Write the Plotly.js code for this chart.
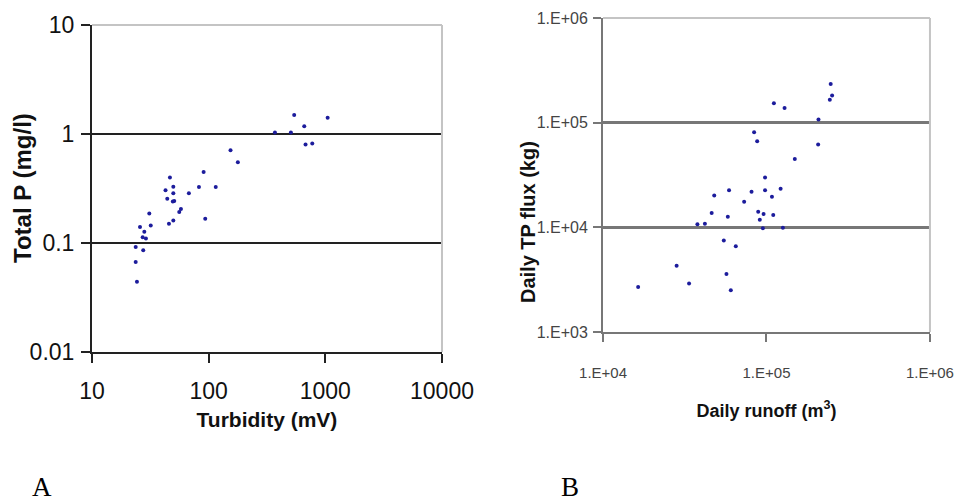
<!DOCTYPE html>
<html><head><meta charset="utf-8">
<script src="https://cdn.plot.ly/plotly-3.0.1.min.js"></script>
<style>body{margin:0;background:#fff}#chart{width:954px;height:502px}</style>
</head><body><div id="chart"></div>
<script>
// Panel A: Turbidity (mV) vs Total P (mg/l)
const turbidity = [541, 1047, 660, 370, 507, 677, 773, 154, 178, 90.6, 46.6, 42.7, 49.8, 82.6, 115, 67.7, 49.8, 44.2, 50.7, 49.3, 57.9, 56, 31, 93.5, 49.8, 45.7, 31.9, 25.8, 28.1, 27.2, 29.0, 23.7, 27.5, 23.7, 24.3];
const totalP    = [1.49, 1.41, 1.18, 1.03, 1.03, 0.80, 0.82, 0.71, 0.55, 0.448, 0.40, 0.304, 0.329, 0.327, 0.327, 0.286, 0.286, 0.255, 0.243, 0.24, 0.205, 0.192, 0.186, 0.167, 0.161, 0.150, 0.145, 0.140, 0.127, 0.113, 0.11, 0.092, 0.086, 0.067, 0.044];

// Panel B: Daily runoff (m3) vs Daily TP flux (kg)
const runoff = [2.47e5, 2.52e5, 2.44e5, 1.11e5, 1.29e5, 2.08e5, 8.4e4, 8.77e4, 2.07e5, 1.49e5, 9.8e4, 4.79e4, 5.9e4, 8.1e4, 9.8e4, 1.22e5, 1.08e5, 7.3e4, 4.62e4, 8.9e4, 9.6e4, 1.1e5, 5.8e4, 9.1e4, 3.78e4, 4.2e4, 9.5e4, 1.26e5, 5.48e4, 6.49e4, 2.82e4, 5.69e4, 3.36e4, 1.64e4, 6.05e4];
const tpFlux = [2.34e5, 1.82e5, 1.66e5, 1.53e5, 1.38e5, 1.07e5, 8.1e4, 6.64e4, 6.2e4, 4.5e4, 3.0e4, 2.02e4, 2.26e4, 2.19e4, 2.26e4, 2.34e4, 1.96e4, 1.76e4, 1.37e4, 1.41e4, 1.34e4, 1.31e4, 1.26e4, 1.18e4, 1.07e4, 1.08e4, 9.8e3, 9.9e3, 7.5e3, 6.6e3, 4.3e3, 3.58e3, 2.9e3, 2.69e3, 2.5e3];

const xTicksA = [10, 100, 1000, 10000];
const xTickTextA = ['10', '100', '1000', '10000'];
const yTicksA = [0.01, 0.1, 1, 10];
const yTickTextA = ['0.01', '0.1', '1', '10'];
const xTicksB = [1e4, 1e5, 1e6];
const xTickTextB = ['1.E+04', '1.E+05', '1.E+06'];
const yTicksB = [1e3, 1e4, 1e5, 1e6];
const yTickTextB = ['1.E+03', '1.E+04', '1.E+05', '1.E+06'];

const markerStyle = {size: 4, color: '#1c1c9c', symbol: 'circle'};
const sans = 'Liberation Sans, Arial, sans-serif';

const traces = [
  {x: turbidity, y: totalP, type: 'scatter', mode: 'markers', marker: markerStyle, xaxis: 'x', yaxis: 'y', hoverinfo: 'x+y'},
  {x: runoff, y: tpFlux, type: 'scatter', mode: 'markers', marker: markerStyle, xaxis: 'x2', yaxis: 'y2', hoverinfo: 'x+y'}
];

const layout = {
  width: 954, height: 502,
  margin: {l: 0, r: 0, t: 0, b: 0},
  paper_bgcolor: '#fff', plot_bgcolor: '#fff',
  showlegend: false,
  xaxis: {
    domain: [0.0964, 0.4633], anchor: 'y', type: 'log', range: [1, 4],
    tickmode: 'array', tickvals: xTicksA, ticktext: xTickTextA,
    ticks: 'outside', ticklen: 9, tickwidth: 2, tickcolor: '#222',
    showline: true, linecolor: '#222', linewidth: 2, showgrid: false, zeroline: false,
    tickfont: {family: sans, size: 23, color: '#111'}, ticklabelstandoff: 8, ticklabeloverflow: 'allow',
    title: {text: 'Turbidity (mV)', font: {family: sans, size: 21, color: '#111', weight: 'bold'}, standoff: 10}
  },
  yaxis: {
    domain: [0.2988, 0.9502], anchor: 'x', type: 'log', range: [-2, 1],
    tickmode: 'array', tickvals: yTicksA, ticktext: yTickTextA,
    ticks: 'outside', ticklen: 9, tickwidth: 2, tickcolor: '#222',
    showline: true, linecolor: '#222', linewidth: 2,
    showgrid: true, gridcolor: '#222', gridwidth: 2, zeroline: false,
    tickfont: {family: sans, size: 23, color: '#111'}, ticklabelstandoff: 2, ticklabeloverflow: 'allow'
  },
  xaxis2: {
    domain: [0.6321, 0.9748], anchor: 'y2', type: 'log', range: [4, 6],
    tickmode: 'array', tickvals: xTicksB, ticktext: xTickTextB,
    ticks: 'outside', ticklen: 8, tickwidth: 2, tickcolor: '#777',
    showline: true, linecolor: '#777', linewidth: 2, showgrid: false, zeroline: false,
    tickfont: {family: sans, size: 15, color: '#444'}, ticklabelstandoff: 18, ticklabeloverflow: 'allow',
    title: {text: 'Daily runoff (m<sup>3</sup>)', font: {family: sans, size: 18, color: '#111', weight: 'bold'}, standoff: 24}
  },
  yaxis2: {
    domain: [0.3386, 0.9641], anchor: 'x2', type: 'log', range: [3, 6],
    tickmode: 'array', tickvals: yTicksB, ticktext: yTickTextB,
    ticks: 'outside', ticklen: 8, tickwidth: 2, tickcolor: '#777',
    showline: true, linecolor: '#777', linewidth: 2,
    showgrid: true, gridcolor: '#777', gridwidth: 3, zeroline: false,
    tickfont: {family: sans, size: 16, color: '#444'}, ticklabelstandoff: 2, ticklabeloverflow: 'allow'
  },
  shapes: [
    {type: 'line', xref: 'x domain', yref: 'y domain', x0: 0, x1: 1, y0: 1, y1: 1, line: {color: '#c4c4c4', width: 2}, layer: 'above'},
    {type: 'line', xref: 'x domain', yref: 'y domain', x0: 1, x1: 1, y0: 0, y1: 1, line: {color: '#c4c4c4', width: 2}, layer: 'above'},
    {type: 'line', xref: 'x2 domain', yref: 'y2 domain', x0: 0, x1: 1, y0: 1, y1: 1, line: {color: '#c4c4c4', width: 2}, layer: 'above'},
    {type: 'line', xref: 'x2 domain', yref: 'y2 domain', x0: 1, x1: 1, y0: 0, y1: 1, line: {color: '#c4c4c4', width: 2}, layer: 'above'}
  ],
  annotations: [
    {text: 'Total P (mg/l)', xref: 'paper', yref: 'paper', x: 0.0241, y: 0.6255, textangle: -90, showarrow: false,
     font: {family: sans, size: 24, color: '#111', weight: 'bold'}, xanchor: 'center', yanchor: 'middle'},
    {text: 'Daily TP flux (kg)', xref: 'paper', yref: 'paper', x: 0.5535, y: 0.5578, textangle: -90, showarrow: false,
     font: {family: sans, size: 20, color: '#111', weight: 'bold'}, xanchor: 'center', yanchor: 'middle'},
    {text: 'A', xref: 'paper', yref: 'paper', x: 0.044, y: 0.03, showarrow: false,
     font: {family: 'Liberation Serif, DejaVu Serif, serif', size: 27, color: '#000'}, xanchor: 'center', yanchor: 'middle'},
    {text: 'B', xref: 'paper', yref: 'paper', x: 0.5975, y: 0.03, showarrow: false,
     font: {family: 'Liberation Serif, DejaVu Serif, serif', size: 27, color: '#000'}, xanchor: 'center', yanchor: 'middle'}
  ]
};

Plotly.newPlot('chart', traces, layout, {displayModeBar: false, staticPlot: true});
</script>
</body></html>
